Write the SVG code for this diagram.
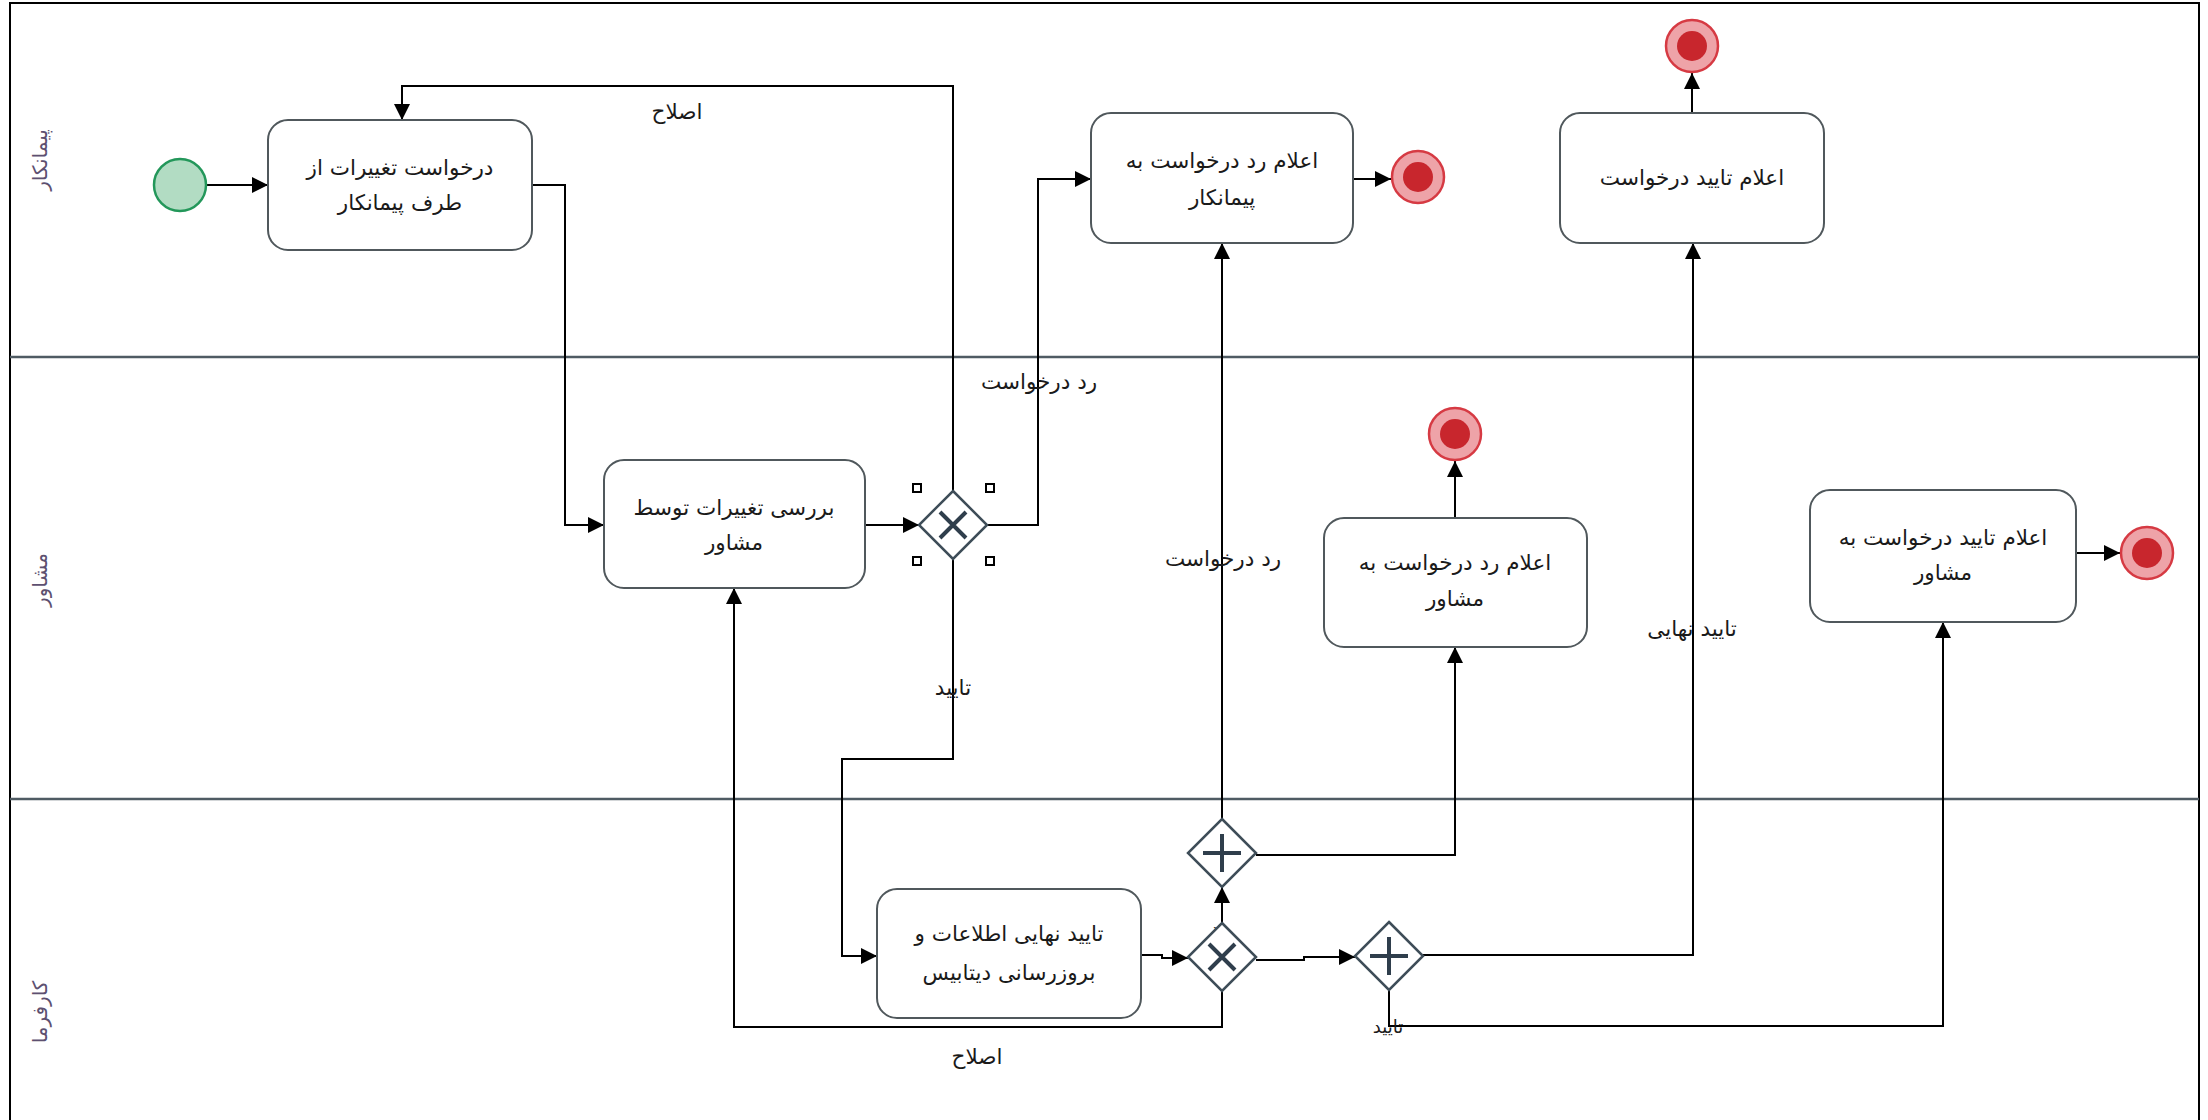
<svg xmlns="http://www.w3.org/2000/svg" width="2208" height="1120" viewBox="0 0 2208 1120">
<style>
.lane{stroke:#4f5b63;stroke-width:2.5;fill:none}
.lanelbl{font-family:"DejaVu Sans",sans-serif;font-size:20px;fill:#5d5070;text-anchor:middle;dominant-baseline:central}
.task rect{fill:#ffffff;stroke:#50585c;stroke-width:2}
.task text,.lbl{font-family:"DejaVu Sans",sans-serif;font-size:21.5px;fill:#1a1a1a;text-anchor:middle;dominant-baseline:central}
.gw polygon{fill:#ffffff;stroke:#3e4d58;stroke-width:2.5}
.gw path{stroke:#2f3e4c;stroke-width:4;fill:none}
.end .o{fill:#eea3a8;stroke:#d63a43;stroke-width:2.5}
.end .i{fill:#c8262d}
.conn path{fill:none;stroke:#000;stroke-width:2}
.handle{fill:#fff;stroke:#000;stroke-width:2}
</style>
<defs>
<marker id="arr" viewBox="0 0 10 10" refX="10" refY="5" markerWidth="18" markerHeight="16" markerUnits="userSpaceOnUse" orient="auto">
<path d="M0,0 L10,5 L0,10 z" fill="#000"/>
</marker>
</defs>
<rect x="0" y="0" width="2208" height="1120" fill="#ffffff"/>
<g id="pool">
<rect x="10" y="3" width="2189" height="1125" fill="none" stroke="#000" stroke-width="2"/>
<line class="lane" x1="10" y1="357" x2="2199" y2="357"/>
<line class="lane" x1="10" y1="799" x2="2199" y2="799"/>
<text class="lanelbl" transform="translate(40,160) rotate(-90)">پیمانکار</text>
<text class="lanelbl" transform="translate(40,580) rotate(-90)">مشاور</text>
<text class="lanelbl" transform="translate(40,1012) rotate(-90)">کارفرما</text>
</g>
<g class="conn" id="connectors">
<path d="M207,185 H268" marker-end="url(#arr)"/>
<path d="M532,185 H565 V525 H604" marker-end="url(#arr)"/>
<path d="M865,525 H919" marker-end="url(#arr)"/>
<path d="M953,491 V86 H402 V120" marker-end="url(#arr)"/>
<path d="M987,525 H1038 V179 H1091" marker-end="url(#arr)"/>
<path d="M953,559 V759 H842 V956 H877" marker-end="url(#arr)"/>
<path d="M1353,179 H1391" marker-end="url(#arr)"/>
<path d="M1692,113 V73" marker-end="url(#arr)"/>
<path d="M1455,518 V461" marker-end="url(#arr)"/>
<path d="M2076,553 H2120" marker-end="url(#arr)"/>
<path d="M1141,955 H1162 V958 H1188" marker-end="url(#arr)"/>
<path d="M1222,923 V887" marker-end="url(#arr)"/>
<path d="M1222,819 V243" marker-end="url(#arr)"/>
<path d="M1256,855 H1455 V647" marker-end="url(#arr)"/>
<path d="M1222,991 V1027 H734 V588" marker-end="url(#arr)"/>
<path d="M1256,960 H1304 V957 H1355" marker-end="url(#arr)"/>
<path d="M1423,955 H1693 V243" marker-end="url(#arr)"/>
<path d="M1389,990 V1026 H1943 V622" marker-end="url(#arr)"/>
<text class="lbl" x="677" y="111">اصلاح</text>
<text class="lbl" x="1039" y="381">رد درخواست</text>
<text class="lbl" x="953" y="687">تایید</text>
<text class="lbl" x="1223" y="558">رد درخواست</text>
<text class="lbl" x="1692" y="628">تایید نهایی</text>
<text class="lbl" x="977" y="1056">اصلاح</text>
<text class="lbl" x="1388" y="1026" style="font-size:18px">تایید</text>
<text class="lbl" x="1218" y="928" style="font-size:14px">رد</text>
</g>
<g id="start">
<circle cx="180" cy="185" r="26" fill="#b2dcc3" stroke="#23975a" stroke-width="2.5"/>
</g>
<g id="task1" class="task">
<rect x="268" y="120" width="264" height="130" rx="20"/>
<text x="400" y="167">درخواست تغییرات از</text>
<text x="400" y="202">طرف پیمانکار</text>
</g>
<g id="task2" class="task">
<rect x="604" y="460" width="261" height="128" rx="20"/>
<text x="734" y="507">بررسی تغییرات توسط</text>
<text x="734" y="542">مشاور</text>
</g>
<g id="gw1" class="gw">
<polygon points="953,491 987,525 953,559 919,525"/>
<path d="M940,512 L966,538 M966,512 L940,538"/>
<rect class="handle" x="913" y="484" width="8" height="8"/>
<rect class="handle" x="986" y="484" width="8" height="8"/>
<rect class="handle" x="913" y="557" width="8" height="8"/>
<rect class="handle" x="986" y="557" width="8" height="8"/>
</g>
<g id="task3" class="task">
<rect x="1091" y="113" width="262" height="130" rx="20"/>
<text x="1222" y="160">اعلام رد درخواست به</text>
<text x="1222" y="197">پیمانکار</text>
</g>
<g id="end1" class="end">
<circle class="o" cx="1418" cy="177" r="26"/>
<circle class="i" cx="1418" cy="177" r="15"/>
</g>
<g id="task5" class="task">
<rect x="1560" y="113" width="264" height="130" rx="20"/>
<text x="1692" y="177">اعلام تایید درخواست</text>
</g>
<g id="end2" class="end">
<circle class="o" cx="1692" cy="46" r="26"/>
<circle class="i" cx="1692" cy="46" r="15"/>
</g>
<g id="end3" class="end">
<circle class="o" cx="1455" cy="434" r="26"/>
<circle class="i" cx="1455" cy="434" r="15"/>
</g>
<g id="task6" class="task">
<rect x="1324" y="518" width="263" height="129" rx="20"/>
<text x="1455" y="562">اعلام رد درخواست به</text>
<text x="1455" y="598">مشاور</text>
</g>
<g id="task7" class="task">
<rect x="1810" y="490" width="266" height="132" rx="20"/>
<text x="1943" y="537">اعلام تایید درخواست به</text>
<text x="1943" y="572">مشاور</text>
</g>
<g id="end4" class="end">
<circle class="o" cx="2147" cy="553" r="26"/>
<circle class="i" cx="2147" cy="553" r="15"/>
</g>
<g id="task4" class="task">
<rect x="877" y="889" width="264" height="129" rx="20"/>
<text x="1009" y="933">تایید نهایی اطلاعات و</text>
<text x="1009" y="972">بروزرسانی دیتابیس</text>
</g>
<g id="gw2" class="gw">
<polygon points="1222,923 1256,957 1222,991 1188,957"/>
<path d="M1209,944 L1235,970 M1235,944 L1209,970"/>
</g>
<g id="gw3" class="gw">
<polygon points="1222,819 1256,853 1222,887 1188,853"/>
<path d="M1203,853 H1241 M1222,834 V872"/>
</g>
<g id="gw4" class="gw">
<polygon points="1389,922 1423,956 1389,990 1355,956"/>
<path d="M1370,956 H1408 M1389,937 V975"/>
</g>
</svg>
